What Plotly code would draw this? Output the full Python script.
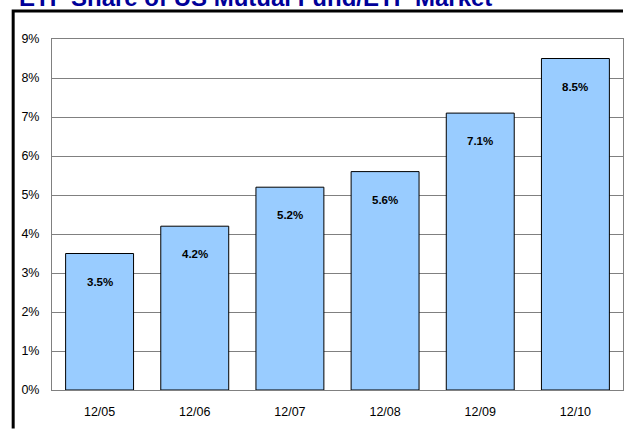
import plotly.graph_objects as go

categories = ["12/05", "12/06", "12/07", "12/08", "12/09", "12/10"]
values = [3.5, 4.2, 5.2, 5.6, 7.1, 8.5]
labels = ["3.5%", "4.2%", "5.2%", "5.6%", "7.1%", "8.5%"]
y_ticks = [0, 1, 2, 3, 4, 5, 6, 7, 8, 9]
y_tick_labels = ["0%", "1%", "2%", "3%", "4%", "5%", "6%", "7%", "8%", "9%"]
title_text = "ETF Share of US Mutual Fund/ETF Market"

FONT = "Liberation Sans, Arial, sans-serif"

fig = go.Figure()
fig.add_trace(go.Bar(
    x=categories, y=values,
    marker=dict(color="#99CCFF", line=dict(color="#000000", width=1)),
    hoverinfo="skip",
))

for c, v, t in zip(categories, values, labels):
    fig.add_annotation(x=c, y=v, text="<b>%s</b>" % t, showarrow=False,
                       yshift=-28, yanchor="middle",
                       font=dict(family=FONT, size=11.5, color="#000000"))

fig.add_annotation(xref="paper", yref="paper", x=-0.0613, y=1.074,
                   xanchor="left", yanchor="bottom", showarrow=False,
                   text="<b>%s</b>" % title_text,
                   font=dict(family=FONT, size=24, color="#000099"))

# outer frame: top edge and left edge, kept inside the figure bounds
fig.add_shape(type="path", xref="paper", yref="paper",
              path="M -0.068 -0.11 L -0.068 1.0798 L 1.0 1.0798",
              line=dict(color="#000000", width=3))

fig.update_layout(
    width=625, height=432,
    margin=dict(l=52, r=2, t=39, b=42),
    paper_bgcolor="white", plot_bgcolor="white",
    showlegend=False, bargap=0.286,
    font=dict(family=FONT, size=12.5, color="#000000"),
)
fig.update_xaxes(showline=True, mirror=True, linecolor="#808080", linewidth=1,
                 showgrid=False, ticks="", ticklabelstandoff=10,
                 tickfont=dict(family=FONT, size=12.5))
fig.update_yaxes(range=[0, 9], tickvals=y_ticks, ticktext=y_tick_labels,
                 showline=True, mirror=True, linecolor="#808080", linewidth=1,
                 showgrid=True, gridcolor="#808080", gridwidth=1,
                 zeroline=False, ticks="", ticklabelstandoff=9,
                 tickfont=dict(family=FONT, size=12.5))

fig.write_html(
    "out.html",
    config={"displayModeBar": False},
    post_script="document.documentElement.style.overflow='hidden';"
                "document.body.style.overflow='hidden';"
                "document.body.style.margin='0';",
)
